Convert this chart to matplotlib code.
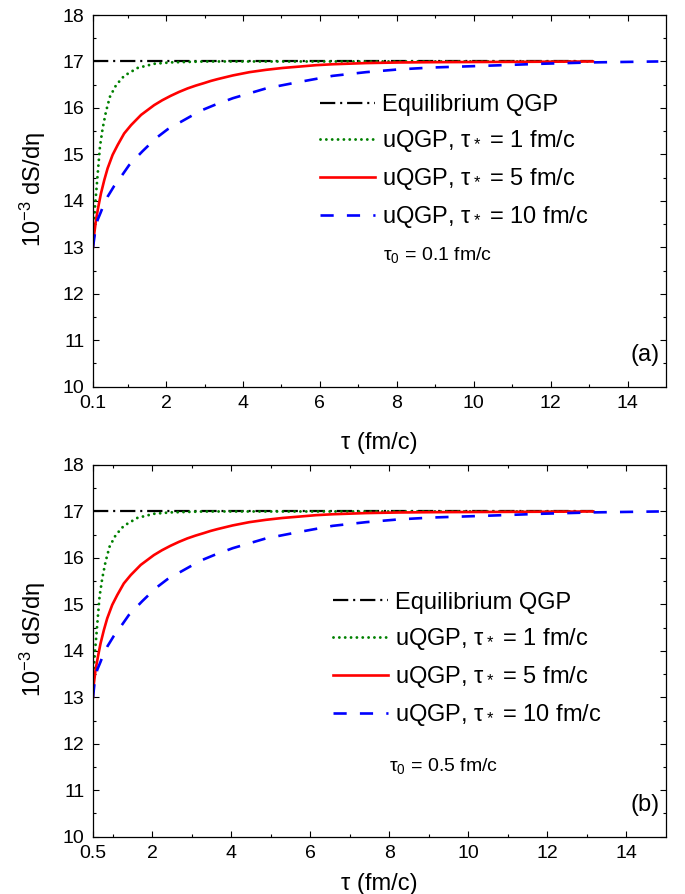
import matplotlib
matplotlib.use('Agg')
import matplotlib.pyplot as plt

plt.rcParams['font.family'] = ['Liberation Sans', 'DejaVu Sans']
plt.rcParams['mathtext.fontset'] = 'custom'
plt.rcParams['mathtext.rm'] = 'Liberation Sans'
plt.rcParams['mathtext.it'] = 'Liberation Sans'
plt.rcParams['mathtext.default'] = 'regular'
plt.rcParams['lines.scale_dashes'] = False

# ---------------- data ----------------
# panel (a): tau0 = 0.1 fm/c
tau_eq_a = [0.1, 13.1]
s_eq_a = [17.0, 17.0]

tau_g_a = [0.1, 0.117, 0.151, 0.195, 0.238, 0.281, 0.351, 0.437, 0.54, 0.70,
           0.91, 1.26, 1.69, 2.12, 3.0, 5.0, 8.0, 13.1]
s_g_a = [13.0, 13.23, 13.87, 14.30, 14.74, 15.17, 15.56, 15.92, 16.24, 16.49,
         16.69, 16.86, 16.95, 16.98, 17.0, 17.0, 17.0, 17.0]

tau_r_a = [0.1, 0.117, 0.178, 0.238, 0.307, 0.394, 0.48, 0.61, 0.74, 0.91,
           1.09, 1.35, 1.69, 1.90, 2.12, 2.34, 2.56, 2.77, 2.99, 3.16,
           3.34, 3.74, 4.17, 4.6, 5.03, 5.47, 5.9, 6.33, 7.2, 8.06,
           9.0, 10.5, 12.0, 13.1]
s_r_a = [13.0, 13.19, 13.59, 13.87, 14.16, 14.45, 14.70, 14.99, 15.20, 15.45,
         15.63, 15.85, 16.06, 16.165, 16.26, 16.345, 16.42, 16.48, 16.535, 16.58,
         16.62, 16.70, 16.77, 16.82, 16.86, 16.89, 16.92, 16.94, 16.965, 16.978,
         16.985, 16.99, 16.995, 17.0]

tau_b_a = [0.1, 0.15, 0.22, 0.30, 0.38, 0.48, 0.65, 0.83, 1.04, 1.39,
           1.74, 2.04, 2.47, 2.90, 3.25, 3.74, 4.6, 5.47, 6.33, 7.2,
           8.06, 8.93, 10.4, 11.75, 13.1, 14.8]
s_b_a = [13.0, 13.3, 13.59, 13.75, 13.92, 14.09, 14.32, 14.52, 14.77, 15.07,
         15.35, 15.54, 15.74, 15.94, 16.06, 16.21, 16.42, 16.56, 16.69, 16.77,
         16.83, 16.87, 16.91, 16.95, 16.98, 17.0]

# panel (b): tau0 = 0.5 fm/c
tau_eq_b = [0.5, 13.16]
s_eq_b = [17.0, 17.0]

tau_g_b = [0.5, 0.506, 0.539, 0.582, 0.624, 0.666, 0.734, 0.818, 0.918, 1.074,
           1.279, 1.620, 2.039, 2.458, 3.316, 5.266, 8.19, 13.16]
s_g_b = [13.0, 13.23, 13.87, 14.30, 14.74, 15.17, 15.56, 15.92, 16.24, 16.49,
         16.69, 16.86, 16.95, 16.98, 17.0, 17.0, 17.0, 17.0]

tau_r_b = [0.5, 0.506, 0.565, 0.624, 0.691, 0.776, 0.860, 0.987, 1.113, 1.279,
           1.454, 1.708, 2.039, 2.244, 2.458, 2.673, 2.887, 3.092, 3.306, 3.472,
           3.648, 4.037, 4.457, 4.876, 5.295, 5.724, 6.143, 6.562, 7.410, 8.248,
           9.164, 10.63, 12.09, 13.16]
s_r_b = [13.0, 13.19, 13.59, 13.87, 14.16, 14.45, 14.70, 14.99, 15.20, 15.45,
         15.63, 15.85, 16.06, 16.165, 16.26, 16.345, 16.42, 16.48, 16.535, 16.58,
         16.62, 16.70, 16.77, 16.82, 16.86, 16.89, 16.92, 16.94, 16.965, 16.978,
         16.985, 16.99, 16.995, 17.0]

tau_b_b = [0.5, 0.538, 0.606, 0.684, 0.762, 0.860, 1.026, 1.201, 1.406, 1.747,
           2.088, 2.380, 2.799, 3.219, 3.560, 4.037, 4.876, 5.724, 6.562, 7.410,
           8.248, 9.096, 10.53, 11.84, 13.16, 14.82]
s_b_b = [13.0, 13.3, 13.59, 13.75, 13.92, 14.09, 14.32, 14.52, 14.77, 15.07,
         15.35, 15.54, 15.74, 15.94, 16.06, 16.21, 16.42, 16.56, 16.69, 16.77,
         16.83, 16.87, 16.91, 16.95, 16.98, 17.0]

labels = ["Equilibrium QGP",
          r"uQGP, $\tau_*$ = 1 fm/c",
          r"uQGP, $\tau_*$ = 5 fm/c",
          r"uQGP, $\tau_*$ = 10 fm/c"]

xticks_a = [0.1, 2, 4, 6, 8, 10, 12, 14]
xticklabels_a = ["0.1", "2", "4", "6", "8", "10", "12", "14"]
xticks_b = [0.5, 2, 4, 6, 8, 10, 12, 14]
xticklabels_b = ["0.5", "2", "4", "6", "8", "10", "12", "14"]
xminor = [1, 3, 5, 7, 9, 11, 13]
yticks = [10, 11, 12, 13, 14, 15, 16, 17, 18]
yminor = [10.5, 11.5, 12.5, 13.5, 14.5, 15.5, 16.5, 17.5]

W, H = 685, 894
fig = plt.figure(figsize=(W / 100, H / 100), dpi=100)


def px_axes(l, t, r, b):
    return [l / W, 1 - b / H, (r - l) / W, (b - t) / H]


panels = [
    dict(rect=px_axes(93, 15, 666, 386.7), xmin=0.1,
         eq=(tau_eq_a, s_eq_a), g=(tau_g_a, s_g_a), r=(tau_r_a, s_r_a), b=(tau_b_a, s_b_a),
         xt=xticks_a, xtl=xticklabels_a, tag="(a)", t0=r"$\tau_0$ = 0.1 fm/c",
         leg=(0.396, 0.787), t0pos=(0.602, 0.354), xlab_y=-0.123),
    dict(rect=px_axes(93, 465, 666, 836.7), xmin=0.5,
         eq=(tau_eq_b, s_eq_b), g=(tau_g_b, s_g_b), r=(tau_r_b, s_r_b), b=(tau_b_b, s_b_b),
         xt=xticks_b, xtl=xticklabels_b, tag="(b)", t0=r"$\tau_0$ = 0.5 fm/c",
         leg=(0.418, 0.659), t0pos=(0.612, 0.19), xlab_y=-0.097),
]

for p in panels:
    ax = fig.add_axes(p['rect'])
    ax.plot(*p['eq'], color='black', lw=1.6, linestyle=(0, (11, 3.5, 1.5, 3.5)),
            label=labels[0])
    ax.plot(*p['g'], color='#008000', lw=2.1, linestyle=(0, (0.01, 4.2)),
            dash_capstyle='round', label=labels[1])
    ax.plot(*p['r'], color='#ff0000', lw=1.9, label=labels[2])
    ax.plot(*p['b'], color='#0000ff', lw=1.9, linestyle=(0, (9.5, 9.5)),
            label=labels[3])

    ax.set_xlim(p['xmin'], 15)
    ax.set_ylim(10, 18)
    ax.set_xticks(p['xt'])
    ax.set_xticklabels(p['xtl'])
    ax.set_xticks(xminor, minor=True)
    ax.set_yticks(yticks)
    ax.set_yticks(yminor, minor=True)
    ax.tick_params(which='both', direction='in', top=True, right=True,
                   labelsize=14, width=0.8, pad=6)
    ax.tick_params(which='major', length=4.5)
    ax.tick_params(which='minor', length=2.5)
    for s in ax.spines.values():
        s.set_linewidth(0.9)

    ax.set_xlabel("τ (fm/c)", fontsize=17)
    ax.xaxis.set_label_coords(0.5, p['xlab_y'])
    ax.set_ylabel("10$^{-3}$ dS/dη", fontsize=17)
    ax.yaxis.set_label_coords(-0.078, 0.53)

    ax.legend(loc='upper left', bbox_to_anchor=p['leg'], frameon=False,
              fontsize=17, handlelength=2.35, handletextpad=0.3,
              labelspacing=0.51, borderpad=0, borderaxespad=0)
    ax.text(p['t0pos'][0], p['t0pos'][1], p['t0'], transform=ax.transAxes,
            fontsize=14, ha='center', va='center')
    ax.text(0.963, 0.085, p['tag'], transform=ax.transAxes,
            fontsize=17, ha='center', va='center')

fig.savefig('out.png', dpi=100)
